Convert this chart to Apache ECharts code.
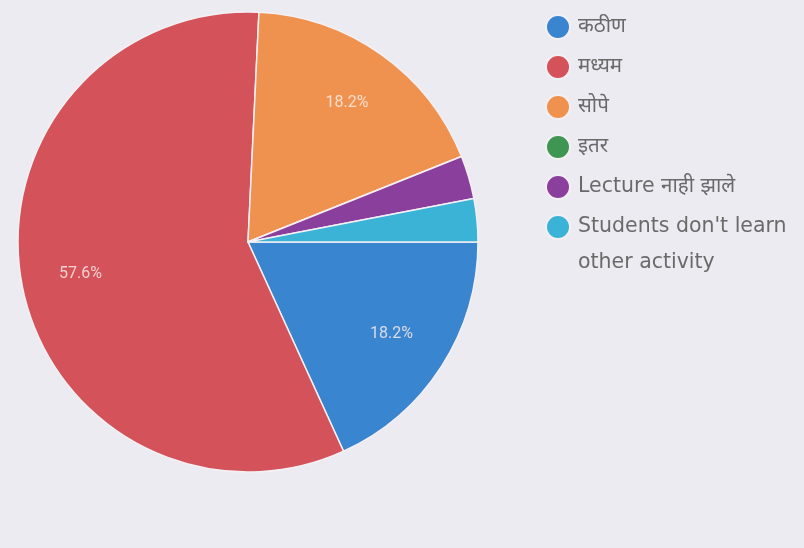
<!DOCTYPE html>
<html>
<head>
<meta charset="utf-8">
<script src="https://cdn.jsdelivr.net/npm/echarts@6/dist/echarts.min.js"></script>
<style>
  html, body { margin: 0; padding: 0; background: #ecebf2; }
  #chart { width: 804px; height: 548px; }
</style>
</head>
<body>
<div id="chart"></div>
<script>
// responses per answer (33 total)
const categories = ['कठीण', 'मध्यम', 'सोपे', 'इतर', 'Lecture नाही झाले', "Students don't learn other activity"];
const counts = [6, 19, 6, 0, 1, 1];
const sliceColors = ['#3a85cf', '#d4525a', '#f0924f', '#3f9552', '#8b3f9c', '#3ab3d6'];
// the long answer wraps onto a second line in the legend
const legendLines = { "Students don't learn other activity": ["Students don't learn", 'other activity'] };

const chart = echarts.init(document.getElementById('chart'));

const pieData = categories.map((name, i) => ({
  name: name,
  value: counts[i],
  itemStyle: { color: sliceColors[i] }
}));

const legendFont = '"DejaVu Sans", "Noto Sans", sans-serif';

const option = {
  backgroundColor: '#ecebf2',
  legend: {
    orient: 'vertical',
    left: 540,
    top: 9,
    itemWidth: 24,
    itemHeight: 24,
    itemGap: 14,
    icon: 'circle',
    data: categories,
    formatter: name => (legendLines[name] ? legendLines[name][0] : name),
    textStyle: {
      color: '#6a6a6a',
      fontSize: 20.5,
      fontFamily: legendFont,
      lineHeight: 24,
      padding: [0, 0, 0, 3]
    }
  },
  graphic: [
    {
      type: 'text',
      left: 578,
      top: 252,
      style: {
        text: legendLines["Students don't learn other activity"][1],
        fill: '#6a6a6a',
        fontSize: 20.5,
        fontFamily: legendFont
      }
    }
  ],
  series: [
    {
      type: 'pie',
      center: [248, 242],
      radius: [0, 230],
      startAngle: 0,
      clockwise: true,
      avoidLabelOverlap: false,
      percentPrecision: 1,
      label: { show: false },
      labelLine: { show: false },
      emphasis: { disabled: true },
      itemStyle: { borderColor: '#f4f0f4', borderWidth: 1.5 },
      data: pieData
    },
    {
      // label carrier: same slices, labels land at ~0.74 of the visible radius
      type: 'pie',
      center: [248, 242],
      radius: [0, 335],
      startAngle: 0,
      clockwise: true,
      silent: true,
      avoidLabelOverlap: false,
      percentPrecision: 1,
      itemStyle: { color: 'rgba(0,0,0,0)', borderWidth: 0 },
      label: {
        show: true,
        position: 'inside',
        color: 'rgba(255,240,235,0.8)',
        fontSize: 16,
        fontFamily: 'Roboto, sans-serif',
        formatter: p => (p.percent < 5 ? '' : p.percent + '%')
      },
      labelLine: { show: false },
      emphasis: { disabled: true },
      data: categories.map((name, i) => ({ name: name, value: counts[i] }))
    }
  ]
};

chart.setOption(option);
</script>
</body>
</html>
